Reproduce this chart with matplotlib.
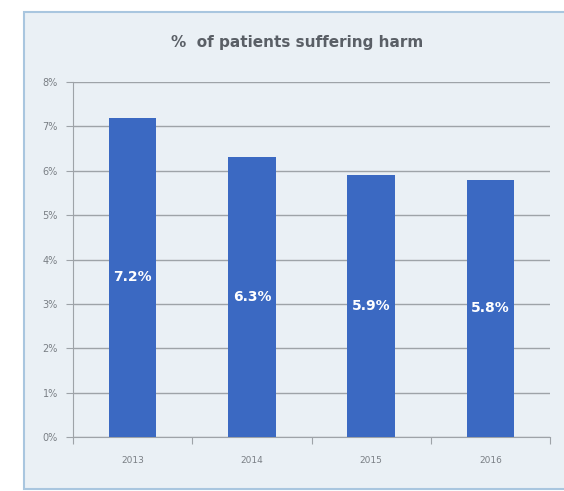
import numpy as np
import matplotlib
matplotlib.use("Agg")
import matplotlib.pyplot as plt
from matplotlib.patches import Rectangle

# Daten
years = ["2013", "2014", "2015", "2016"]
harm_pct = [7.2, 6.3, 5.9, 5.8]
y_ticks = [0, 1, 2, 3, 4, 5, 6, 7, 8]

bg = "#eaf0f5"
bar_col = "#3b69c2"
grid_col = "#9ea3a8"
txt_col = "#7a7f85"

fig = plt.figure(figsize=(5.64, 4.91), dpi=100)
fig.patch.set_facecolor("white")

# Rahmen um das Diagramm
frame = Rectangle((24/564, 2/491), 1.0, 477/491, transform=fig.transFigure,
                  facecolor=bg, edgecolor="#a9c6df", linewidth=1.5, zorder=-10)
fig.patches.append(frame)

ax = fig.add_axes([73/564, 1-437/491, 477/564, 355/491])
ax.set_facecolor(bg)

x = np.arange(len(years)) + 0.5
bars = ax.bar(x, harm_pct, width=0.40, color=bar_col, zorder=3)

for xi, v in zip(x, harm_pct):
    ax.text(xi, v/2, f"{v:.1f}%", ha="center", va="center",
            color="white", fontsize=10, fontweight="bold", zorder=4)

ax.set_xlim(0, len(years))
ax.set_ylim(0, 8)
ax.set_yticks(y_ticks)
ax.set_yticklabels([f"{t}%" for t in y_ticks])
ax.set_xticks(np.arange(len(years) + 1))
ax.set_xticklabels([])
ax.set_xticks(x, minor=True)
ax.set_xticklabels(years, minor=True)
ax.tick_params(axis="x", which="minor", length=0, pad=14, labelsize=6.5, colors=txt_col)
ax.tick_params(axis="x", which="major", length=5, direction="out", color=grid_col)
ax.tick_params(axis="y", length=5, direction="out", color=grid_col, labelsize=7,
               labelcolor=txt_col, pad=6)

ax.yaxis.grid(True, color=grid_col, linewidth=1.0, zorder=1)
ax.set_axisbelow(True)
for s in ["top", "right"]:
    ax.spines[s].set_visible(False)
ax.spines["left"].set_color(grid_col)
ax.spines["bottom"].set_color(grid_col)

fig.text(297/564, 1-42/491, "%  of patients suffering harm", ha="center", va="center",
         fontsize=11, fontweight="bold", color="#5a5f66")

plt.savefig("out.png", dpi=100, facecolor=fig.get_facecolor())
